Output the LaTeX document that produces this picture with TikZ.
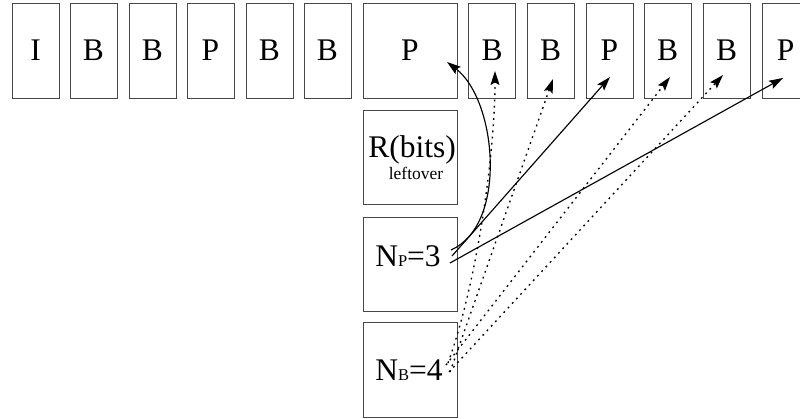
\documentclass[tikz,border=0pt]{standalone}
\usepackage{fontspec}
\setmainfont{Liberation Serif}
\usetikzlibrary{arrows.meta}

\newcommand\lblfont{\fontsize{31.5}{36}\selectfont}
\newcommand\subfont{\fontsize{16.5}{18}\selectfont}
\newcommand\notefont{\fontsize{17.5}{20}\selectfont}

\tikzset{
  frame/.style={draw=black!72, line width=0.9pt, inner sep=0pt,
    minimum width=47pt, minimum height=95pt,
    font=\lblfont, text height=20pt, text depth=0pt},
  wideframe/.style={frame, minimum width=94pt},
  panel/.style={draw=black!72, line width=0.9pt, inner sep=0pt,
    minimum width=94pt, minimum height=94pt},
  tag/.style={inner sep=0pt, anchor=base},
  tipstyle/.style={-{Stealth[length=14pt,width=9pt,inset=2.5pt]}},
  solidref/.style={tipstyle, line width=1.15pt},
  dottedref/.style={tipstyle, line width=1.35pt, dash pattern=on 1.8pt off 4.4pt},
}

\begin{document}
\begin{tikzpicture}[x=1pt, y=-1pt]
  \useasboundingbox (0,0) rectangle (800,419);
  \clip (0,0) rectangle (800,419);

  % frame sequence
  \node[frame] (f1)  at (35.5,50.5)  {I};
  \node[frame] (f2)  at (93.5,50.5)  {B};
  \node[frame] (f3)  at (152.5,50.5) {B};
  \node[frame] (f4)  at (210.5,50.5) {P};
  \node[frame] (f5)  at (269.5,50.5) {B};
  \node[frame] (f6)  at (327.5,50.5) {B};
  \node[wideframe] (f7) at (410,50.5) {P};
  \node[frame] (f8)  at (492,50.5)   {B};
  \node[frame] (f9)  at (550.5,50.5) {B};
  \node[frame] (f10) at (609.5,50.5) {P};
  \node[frame] (f11) at (667.5,50.5) {B};
  \node[frame] (f12) at (726.5,50.5) {B};
  \node[frame] (f13) at (785.5,50.5) {P};

  % budget panels
  \node[panel] (rbits) at (410,157) {};
  \node[panel] (np)    at (410,264) {};
  \node[panel, minimum height=95pt] (nb) at (410,369.5) {};

  \node[tag, font=\lblfont]  (rbitslbl) at (412,158) {R(bits)};
  \node[tag, font=\notefont] (leftlbl)  at (416,180) {leftover};
  \node[tag, font=\lblfont]  (nplbl)    at (408,267) {N{\subfont P}=3};
  \node[tag, font=\lblfont]  (nblbl)    at (409,381) {N{\subfont B}=4};

  % connector ends
  \coordinate (npcurve) at (451,250);
  \coordinate (npmid)   at (452,256);
  \coordinate (nplow)   at (450,263);
  \coordinate (nba)     at (448,363);
  \coordinate (nbb)     at (450,372);
  \coordinate (nbc)     at (446,365);
  \coordinate (nbd)     at (449,372);

  \coordinate (t7)  at (447,62);
  \coordinate (t8)  at (495,71);
  \coordinate (t9)  at (553,79);
  \coordinate (t10) at (610,77);
  \coordinate (t11) at (670,77);
  \coordinate (t12) at (723,75);
  \coordinate (t13) at (783,78);

  % P-frame references
  \draw[solidref] (npcurve) .. controls (508,225) and (497,100) .. (t7);
  \draw[solidref] (npmid) -- (t10);
  \draw[solidref] (nplow) -- (t13);

  % B-frame references
  \draw[dottedref] (nba) .. controls (478,280) and (495,150) .. (t8);
  \draw[dottedref] (nbb) -- (t9);
  \draw[dottedref] (nbc) -- (t11);
  \draw[dottedref] (nbd) -- (t12);
\end{tikzpicture}
\end{document}
